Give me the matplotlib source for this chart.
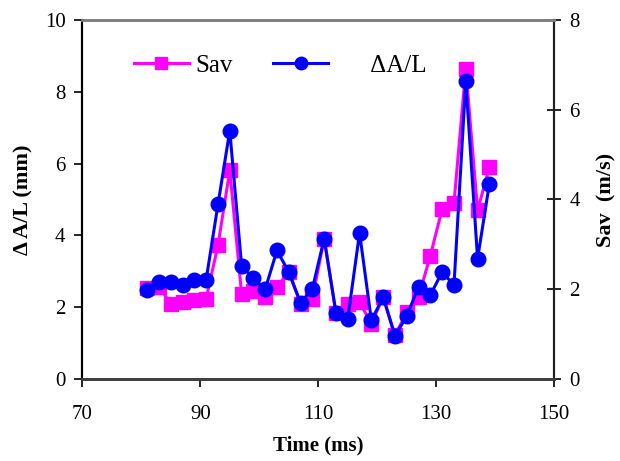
import matplotlib
matplotlib.use("Agg")
import matplotlib.pyplot as plt
from matplotlib.lines import Line2D

time_ms = [81, 83, 85, 87, 89, 91, 93, 95, 97, 99, 101, 103, 105, 107, 109,
           111, 113, 115, 117, 119, 121, 123, 125, 127, 129, 131, 133, 135, 137, 139]
dal_mm = [2.47, 2.71, 2.70, 2.62, 2.76, 2.77, 4.86, 6.92, 3.16, 2.80, 2.50, 3.58, 2.98, 2.12, 2.51,
          3.91, 1.84, 1.68, 4.07, 1.63, 2.28, 1.20, 1.75, 2.57, 2.34, 2.98, 2.61, 8.31, 3.35, 5.44]
sav_ms = [2.02, 2.05, 1.68, 1.71, 1.75, 1.79, 2.98, 4.65, 1.90, 1.95, 1.83, 2.05, 2.38, 1.68, 1.79,
          3.13, 1.47, 1.68, 1.71, 1.23, 1.83, 0.97, 1.49, 1.83, 2.75, 3.79, 3.92, 6.91, 3.76, 4.72]

xticks = [70, 90, 110, 130, 150]
left_ticks = [0, 2, 4, 6, 8, 10]
right_ticks = [0, 2, 4, 6, 8]

plt.rcParams['font.family'] = ['Liberation Serif', 'DejaVu Serif']

fig = plt.figure(figsize=(6.2, 4.61), dpi=100)
ax = fig.add_axes([0.1327, 0.178, 0.894 - 0.1327, 0.9566 - 0.178])
ax2 = ax.twinx()

mag = '#FF00FF'
blu = '#0000FF'

ax2.plot(time_ms, sav_ms, color=mag, lw=2.2, marker='s', ms=10.5,
         markerfacecolor=mag, markeredgecolor=mag, clip_on=False)
ax.plot(time_ms, dal_mm, color=blu, lw=2.2, marker='o', ms=10.5,
        markerfacecolor=blu, markeredgecolor=blu, clip_on=False)

ax.set_zorder(ax2.get_zorder() + 1)
ax.patch.set_visible(False)

ax.set_xlim(70, 150)
ax.set_ylim(0, 10)
ax2.set_ylim(0, 8)
ax.set_xticks(xticks)
ax.set_yticks(left_ticks)
ax2.set_yticks(right_ticks)

fs = 15
ax.tick_params(axis='x', direction='out', length=6, width=1.2, pad=13, labelsize=fs)
ax.tick_params(axis='y', direction='out', length=6, width=1.2, pad=6, labelsize=fs)
ax2.tick_params(axis='y', direction='inout', length=10, width=1.2, pad=6, labelsize=fs)

for a in (ax, ax2):
    a.spines['top'].set_color('#808080')
    a.spines['top'].set_linewidth(2)
    a.spines['bottom'].set_color('#404040')
    a.spines['bottom'].set_linewidth(2)
    a.spines['left'].set_color('black')
    a.spines['left'].set_linewidth(1.5)
    a.spines['right'].set_color('#202020')
    a.spines['right'].set_linewidth(1.5)

ax.set_xlabel('Time (ms)', fontsize=fs, fontweight='bold', labelpad=8)
ax.set_ylabel('Δ A/L (mm)', fontsize=16, fontweight='bold', labelpad=8)
ax2.set_ylabel('Sav  (m/s)', fontsize=16, fontweight='bold', labelpad=12)

h1 = Line2D([], [], color=mag, lw=2.2, marker='s', ms=8, markerfacecolor=mag, markeredgecolor=mag)
h2 = Line2D([], [], color=blu, lw=2.2, marker='o', ms=9, markerfacecolor=blu, markeredgecolor=blu)
leg = ax.legend([h1, h2], ['Sav', '      ΔA/L'], ncol=2, frameon=False, fontsize=18,
                loc='center left', bbox_to_anchor=(0.1095, 0.872), handlelength=2.2,
                handletextpad=0.24, columnspacing=1.64, borderaxespad=0, borderpad=0)

fig.savefig('out.png', dpi=100)
